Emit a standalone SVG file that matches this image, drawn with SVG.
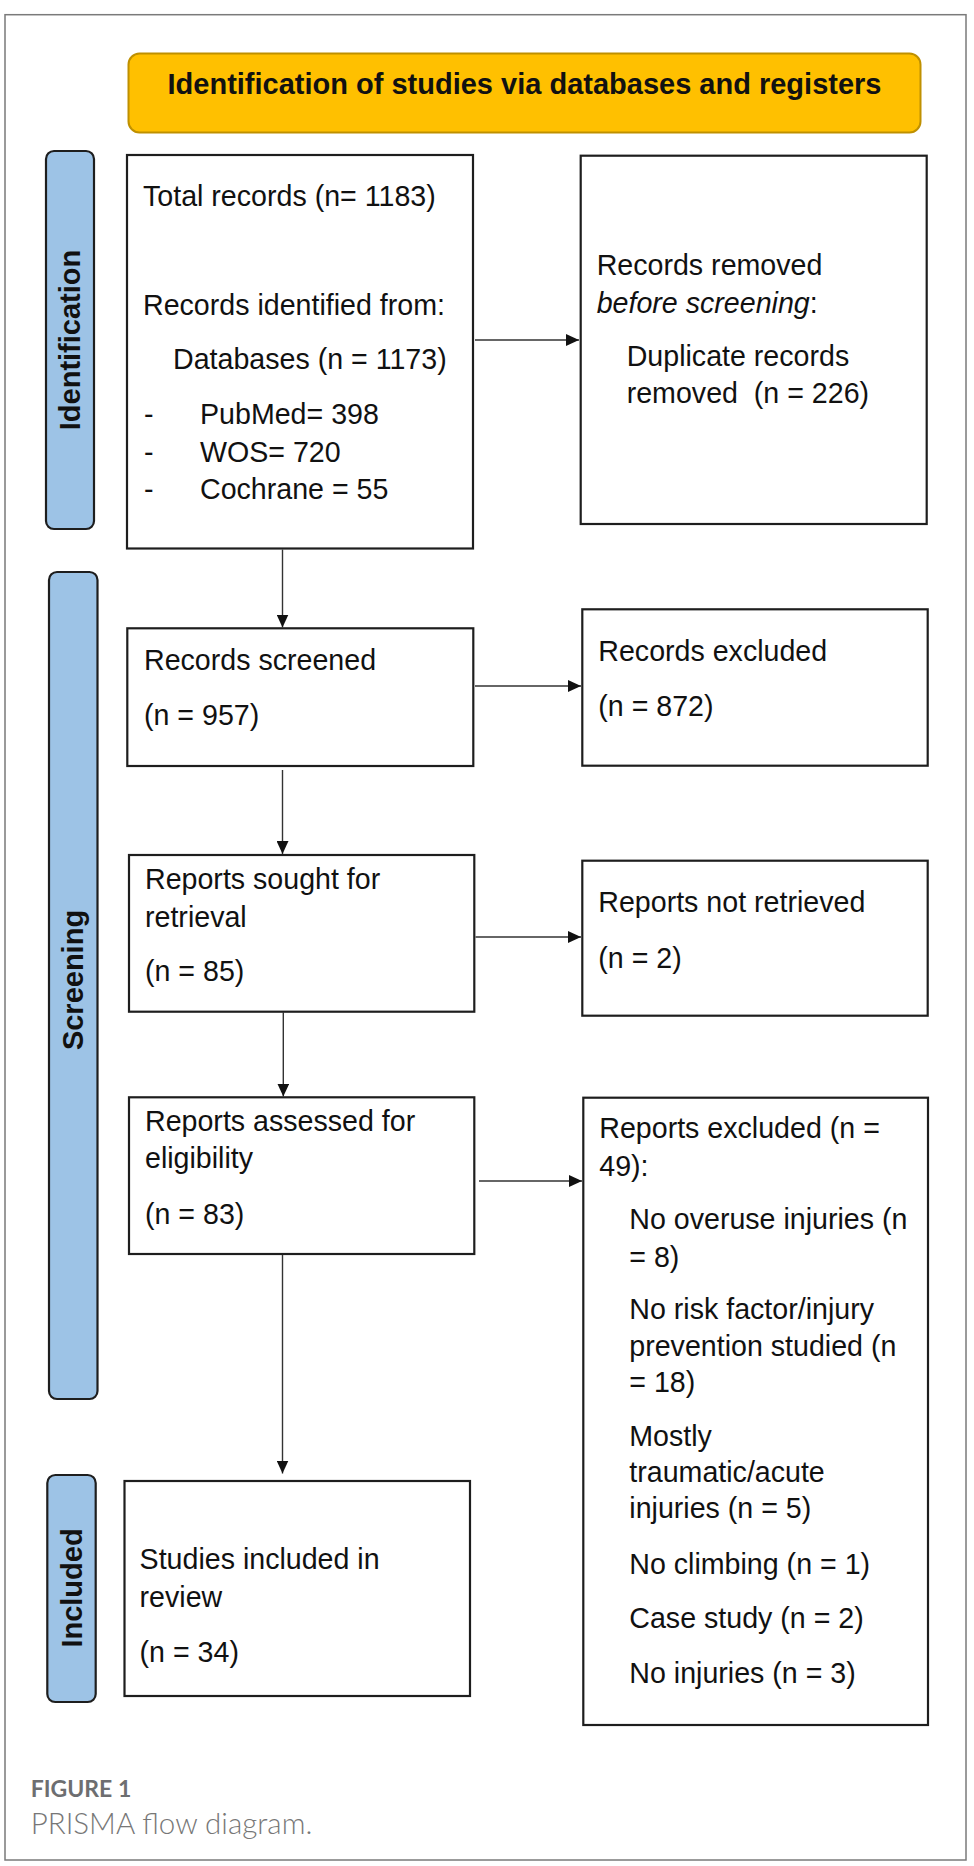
<svg xmlns="http://www.w3.org/2000/svg" width="974" height="1866" viewBox="0 0 974 1866">
  <style>
    .frame { fill: #ffffff; stroke: #7a7a7a; stroke-width: 1.5; }
    .box { fill: #ffffff; stroke: #1e1e1e; stroke-width: 2.2; }
    .lbl { fill: #9DC3E6; stroke: #1e1e1e; stroke-width: 2.2; }
    .head { fill: #FFC000; stroke: #BF9000; stroke-width: 2; }
    .t { font-family: "Liberation Sans", Arial, sans-serif; font-size: 28.6px; fill: #111111; }
    .lt { font-family: "Liberation Sans", Arial, sans-serif; font-weight: bold; font-size: 29px; fill: #111111; }
    .ht { font-family: "Liberation Sans", Arial, sans-serif; font-weight: bold; font-size: 29px; fill: #111111; }
    .conn { stroke: #333333; stroke-width: 1.4; fill: none; }
    .cap1 { font-family: Lato, "Open Sans", sans-serif; font-weight: bold; font-size: 23px; fill: #6d6e70; }
    .cap2 { font-family: Lato, "Open Sans", sans-serif; font-weight: 300; font-size: 29.5px; fill: #777777; }
  </style>
  <defs>
    <marker id="arrow" markerUnits="userSpaceOnUse" viewBox="0 0 13 12" markerWidth="13" markerHeight="12" refX="13" refY="6" orient="auto">
      <path d="M0,0 L13,6 L0,12 z" fill="#111111"/>
    </marker>
  </defs>

  <rect class="frame" x="5" y="14.7" width="961" height="1845.3"/>

  <g id="header">
    <rect class="head" x="128.5" y="53.5" width="792" height="79" rx="11" ry="11"/>
    <text class="ht" x="524.5" y="94" text-anchor="middle">Identification of studies via databases and registers</text>
  </g>

  <g id="label-identification">
    <rect class="lbl" x="46" y="151" width="48" height="378" rx="8" ry="8"/>
    <text class="lt" transform="translate(70,340) rotate(-90)" text-anchor="middle" dominant-baseline="central">Identification</text>
  </g>
  <g id="label-screening">
    <rect class="lbl" x="49" y="572" width="48.5" height="827" rx="8" ry="8"/>
    <text class="lt" transform="translate(73,980) rotate(-90)" text-anchor="middle" dominant-baseline="central">Screening</text>
  </g>
  <g id="label-included">
    <rect class="lbl" x="47.3" y="1475" width="48.4" height="227" rx="8" ry="8"/>
    <text class="lt" transform="translate(71.5,1588) rotate(-90)" text-anchor="middle" dominant-baseline="central">Included</text>
  </g>

  <g id="node-total">
    <rect class="box" x="127" y="155" width="346" height="393.5"/>
    <text class="t" x="143" y="205.5">Total records (n= 1183)</text>
    <text class="t" x="143" y="315">Records identified from:</text>
    <text class="t" x="173" y="369">Databases (n = 1173)</text>
    <text class="t" x="144" y="424">-</text>
    <text class="t" x="200" y="424">PubMed= 398</text>
    <text class="t" x="144" y="461.5">-</text>
    <text class="t" x="200" y="461.5">WOS= 720</text>
    <text class="t" x="144" y="499">-</text>
    <text class="t" x="200" y="499">Cochrane = 55</text>
  </g>

  <g id="node-removed">
    <rect class="box" x="580.7" y="155.7" width="346" height="368.3"/>
    <text class="t" x="596.7" y="275">Records removed</text>
    <text class="t" x="596.7" y="313"><tspan font-style="italic">before screening</tspan>:</text>
    <text class="t" x="626.7" y="366">Duplicate records</text>
    <text class="t" x="626.7" y="403" xml:space="preserve">removed  (n = 226)</text>
  </g>

  <g id="node-screened">
    <rect class="box" x="127.3" y="628.3" width="346" height="137.7"/>
    <text class="t" x="144" y="670">Records screened</text>
    <text class="t" x="144" y="725">(n = 957)</text>
  </g>

  <g id="node-excluded">
    <rect class="box" x="582.3" y="609.3" width="345.4" height="156.4"/>
    <text class="t" x="598.3" y="660.7">Records excluded</text>
    <text class="t" x="598.3" y="715.7">(n = 872)</text>
  </g>

  <g id="node-sought">
    <rect class="box" x="129" y="855" width="345.3" height="156.7"/>
    <text class="t" x="145" y="889.3">Reports sought for</text>
    <text class="t" x="145" y="926.7">retrieval</text>
    <text class="t" x="145" y="980.7">(n = 85)</text>
  </g>

  <g id="node-not-retrieved">
    <rect class="box" x="582.3" y="860.7" width="345.4" height="155"/>
    <text class="t" x="598.3" y="911.7">Reports not retrieved</text>
    <text class="t" x="598.3" y="967.7">(n = 2)</text>
  </g>

  <g id="node-assessed">
    <rect class="box" x="129" y="1097.3" width="345.3" height="156.7"/>
    <text class="t" x="145" y="1131">Reports assessed for</text>
    <text class="t" x="145" y="1168.3">eligibility</text>
    <text class="t" x="145" y="1224">(n = 83)</text>
  </g>

  <g id="node-reports-excluded">
    <rect class="box" x="583.3" y="1097.7" width="344.7" height="627.3"/>
    <text class="t" x="599.3" y="1138.3">Reports excluded (n =</text>
    <text class="t" x="599.3" y="1175.7">49):</text>
    <text class="t" x="629.3" y="1229.3">No overuse injuries (n</text>
    <text class="t" x="629.3" y="1266.7">= 8)</text>
    <text class="t" x="629.3" y="1319.3">No risk factor/injury</text>
    <text class="t" x="629.3" y="1356">prevention studied (n</text>
    <text class="t" x="629.3" y="1391.7">= 18)</text>
    <text class="t" x="629.3" y="1445.5">Mostly</text>
    <text class="t" x="629.3" y="1481.5">traumatic/acute</text>
    <text class="t" x="629.3" y="1518">injuries (n = 5)</text>
    <text class="t" x="629.3" y="1573.5">No climbing (n = 1)</text>
    <text class="t" x="629.3" y="1628.3">Case study (n = 2)</text>
    <text class="t" x="629.3" y="1683.3">No injuries (n = 3)</text>
  </g>

  <g id="node-included">
    <rect class="box" x="124.5" y="1481" width="345.5" height="215"/>
    <text class="t" x="139.6" y="1569">Studies included in</text>
    <text class="t" x="139.6" y="1606.7">review</text>
    <text class="t" x="139.6" y="1661.7">(n = 34)</text>
  </g>

  <g id="connectors">
    <line class="conn" x1="475" y1="340" x2="579" y2="340" marker-end="url(#arrow)"/>
    <line class="conn" x1="282.5" y1="549.5" x2="282.5" y2="627.5" marker-end="url(#arrow)"/>
    <line class="conn" x1="475" y1="686" x2="581" y2="686" marker-end="url(#arrow)"/>
    <line class="conn" x1="282.5" y1="770" x2="282.5" y2="854" marker-end="url(#arrow)"/>
    <line class="conn" x1="475.5" y1="937" x2="581" y2="937" marker-end="url(#arrow)"/>
    <line class="conn" x1="283.3" y1="1012" x2="283.3" y2="1096.5" marker-end="url(#arrow)"/>
    <line class="conn" x1="479" y1="1181" x2="582" y2="1181" marker-end="url(#arrow)"/>
    <line class="conn" x1="282.5" y1="1255" x2="282.5" y2="1473.5" marker-end="url(#arrow)"/>
  </g>

  <g id="caption">
    <text class="cap1" x="30.7" y="1797">FIGURE 1</text>
    <text class="cap2" x="30.7" y="1834">PRISMA flow diagram.</text>
  </g>
</svg>
